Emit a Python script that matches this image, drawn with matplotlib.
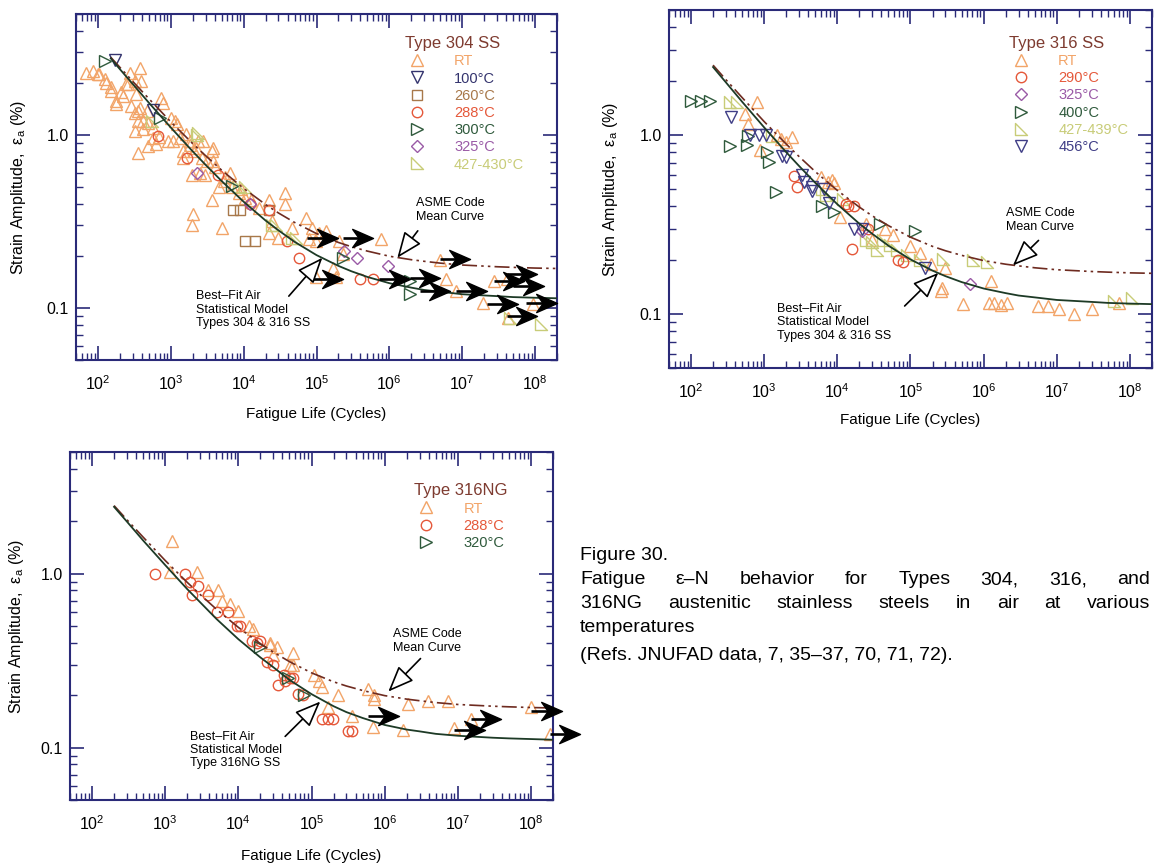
import numpy as np
import matplotlib
matplotlib.use('Agg')
import matplotlib.pyplot as plt
from matplotlib.lines import Line2D
from matplotlib.path import Path
from matplotlib.ticker import LogLocator, FixedLocator, FixedFormatter, NullFormatter
from matplotlib.font_manager import FontProperties

plt.rcParams['font.family'] = ['Liberation Sans', 'DejaVu Sans']
plt.rcParams['mathtext.fontset'] = 'custom'
plt.rcParams['mathtext.rm'] = 'Liberation Sans'
plt.rcParams['mathtext.it'] = 'Liberation Sans:italic'
plt.rcParams['mathtext.default'] = 'regular'

# ---------------- curves ----------------
curve_n = [150, 200, 300, 500, 1e3, 2e3, 3e3, 5e3, 1e4, 2e4, 3e4, 5e4, 1e5, 2e5, 3e5,
           5e5, 1e6, 2e6, 3e6, 5e6, 1e7, 3e7, 5e7, 1e8, 2e8]
bestfit_e = [2.77, 2.40, 1.97, 1.535, 1.104, 0.803, 0.672, 0.541, 0.411, 0.320, 0.281, 0.241,
             0.202, 0.175, 0.163, 0.151, 0.139, 0.131, 0.127, 0.124, 0.120, 0.117, 0.1155,
             0.1145, 0.1137]
asme_e = [2.81, 2.46, 2.04, 1.62, 1.19, 0.891, 0.759, 0.625, 0.491, 0.396, 0.354, 0.312,
          0.269, 0.239, 0.226, 0.213, 0.199, 0.190, 0.186, 0.1815, 0.177, 0.173, 0.1716,
          0.170, 0.169]
ng_e = [2.80, 2.42, 1.99, 1.55, 1.12, 0.815, 0.685, 0.55, 0.42, 0.33, 0.29, 0.245,
        0.203, 0.173, 0.160, 0.148, 0.135, 0.127, 0.124, 0.120, 0.117, 0.114, 0.113,
        0.112, 0.111]
x_ticks = [1e2, 1e3, 1e4, 1e5, 1e6, 1e7, 1e8]

# ---------------- Panel 1: Type 304 SS ----------------
p1_rt_n = [69, 85, 100, 105, 124, 129, 151, 153, 178, 179, 210, 220, 246, 259, 274, 288, 320,
           324, 324, 338, 355, 355, 356, 375, 380, 390, 415, 417, 465, 490, 490, 575, 575,
           630, 680, 740, 790, 930, 1000, 1080, 1150, 1200, 1350, 1480, 1480, 1620, 1830,
           1850, 1940, 1940, 2040, 2050, 2250, 2400, 2550, 2670, 2800, 2970, 3100, 3640,
           3640, 3850, 3850, 4070, 4540, 5000, 5300, 5600, 6600, 6900, 8500, 9100, 10500,
           12800, 16000, 22000, 22000, 24500, 30000, 37000, 37000, 46500, 71000, 79000,
           87000, 98000, 98000, 107000, 134000, 166000, 183000, 204000, 228000, 780000,
           4.9e6, 6.0e6, 8.3e6, 1.95e7, 2.7e7, 4.1e7, 4.3e7, 9.5e7]
p1_rt_e = [2.29, 2.34, 2.25, 2.24, 2.10, 2.00, 1.80, 1.88, 1.57, 1.50, 1.76, 1.68, 1.96, 1.97,
           2.29, 1.47, 2.05, 1.34, 1.05, 1.72, 1.20, 0.79, 1.38, 2.45, 1.43, 2.05, 1.08, 1.20,
           1.38, 0.86, 1.17, 1.10, 0.96, 0.89, 0.97, 1.64, 1.53, 0.92, 1.25, 0.92, 1.20, 1.16,
           0.96, 0.74, 0.81, 1.01, 0.88, 0.92, 0.59, 0.30, 0.35, 0.81, 0.84, 0.92, 0.60, 0.74,
           0.92, 0.59, 0.71, 0.81, 0.42, 0.84, 0.71, 0.65, 0.50, 0.29, 0.54, 0.57, 0.60, 0.50,
           0.46, 0.49, 0.43, 0.42, 0.38, 0.42, 0.27, 0.32, 0.255, 0.46, 0.40, 0.29, 0.33,
           0.25, 0.29, 0.244, 0.15, 0.27, 0.28, 0.171, 0.15, 0.244, 0.204, 0.249, 0.19,
           0.147, 0.125, 0.107, 0.143, 0.147, 0.088, 0.105]
p1_100_n = [171, 575]
p1_100_e = [2.72, 1.40]
p1_260_n = [7200, 8900, 10500, 14500, 22000]
p1_260_e = [0.37, 0.37, 0.244, 0.244, 0.37]
p1_288_n = [675, 1650, 4500, 12300, 22000, 39000, 57000, 3.9e5, 5.9e5]
p1_288_e = [0.99, 0.74, 0.59, 0.40, 0.37, 0.244, 0.195, 0.147, 0.147]
p1_300_n = [124, 710, 6900, 2.3e5, 1.9e6, 1.9e6]
p1_300_e = [2.68, 1.26, 0.51, 0.195, 0.143, 0.12]
p1_325_n = [2300, 12300, 2.4e5, 3.6e5, 9.5e5]
p1_325_e = [0.605, 0.40, 0.214, 0.195, 0.175]
p1_427_n = [550, 2300, 2400, 8500, 10500, 24500, 27500, 46000, 52000, 4.6e7, 1.2e8]
p1_427_e = [1.2, 1.0, 1.03, 0.51, 0.50, 0.30, 0.30, 0.255, 0.254, 0.088, 0.081]
p1_run_n = [7.5e4, 2.3e5, 8.7e4, 7.2e5, 1.9e6, 2.6e6, 4.9e6, 8.3e6, 2.2e7, 2.7e7, 4.1e7,
            5.0e7, 4.1e7, 7.6e7]
p1_run_e = [0.252, 0.252, 0.147, 0.147, 0.149, 0.125, 0.192, 0.125, 0.106, 0.143, 0.157,
            0.134, 0.090, 0.107]

# ---------------- Panel 2: Type 316 SS ----------------
p2_rt_n = [550, 610, 790, 1480, 1700, 2000, 2400, 890, 6000, 7500, 8500, 9100, 10800, 25000,
           30000, 45000, 58000, 1.0e5, 1.35e5, 1.9e5, 3.0e5, 2.7e5, 2.6e5, 5.3e5, 1.26e6,
           1.17e6, 1.38e6, 1.7e6, 2.1e6, 5.5e6, 7.6e6, 1.07e7, 1.74e7, 3.0e7, 7.1e7]
p2_rt_e = [1.31, 1.15, 1.53, 1.0, 0.95, 0.92, 0.97, 0.83, 0.58, 0.55, 0.56, 0.54, 0.35, 0.32,
           0.26, 0.30, 0.275, 0.24, 0.22, 0.19, 0.18, 0.14, 0.135, 0.114, 0.153, 0.115,
           0.115, 0.113, 0.115, 0.111, 0.111, 0.107, 0.100, 0.107, 0.115]
p2_290_n = [2560, 2800, 13000, 17000, 13800, 16000, 26000, 68000, 79000]
p2_290_e = [0.59, 0.51, 0.41, 0.40, 0.40, 0.23, 0.30, 0.20, 0.195]
p2_325_n = [22000, 6.6e5]
p2_325_e = [0.29, 0.148]
p2_400_n = [100, 138, 182, 345, 575, 610, 1080, 1150, 1440, 6200, 9000, 38000, 1.15e5]
p2_400_e = [1.56, 1.56, 1.56, 0.87, 0.88, 0.99, 0.80, 0.71, 0.48, 0.40, 0.37, 0.32, 0.29]
p2_427_n = [345, 420, 1260, 6200, 7000, 12000, 25000, 30000, 42000, 52000, 35000, 65000,
            89000, 1.35e5, 2.8e5, 7.2e5, 1.1e6, 6.1e7, 1.07e8]
p2_427_e = [1.53, 1.53, 0.99, 0.50, 0.46, 0.44, 0.258, 0.252, 0.258, 0.242, 0.227, 0.227,
            0.213, 0.20, 0.204, 0.20, 0.195, 0.118, 0.123]
p2_456_n = [355, 650, 840, 1050, 1740, 1990, 3300, 3500, 4500, 4500, 7800, 6600, 17000,
            22000, 1.6e5]
p2_456_e = [1.26, 1.0, 1.0, 1.0, 0.76, 0.75, 0.60, 0.55, 0.51, 0.49, 0.42, 0.50, 0.30,
            0.30, 0.18]

# ---------------- Panel 3: Type 316NG ----------------
p3_rt_n = [1250, 1170, 2750, 3900, 5300, 6000, 7800, 10000, 13800, 16000, 27500, 34000,
           30000, 56000, 51000, 1.07e5, 27000, 55000, 1.26e5, 1.4e5, 2.3e5, 1.7e5, 3.6e5,
           5.9e5, 7.1e5, 7.1e5, 6.9e5, 1.8e6, 2.1e6, 3.9e6, 7.3e6, 8.9e6, 1.5e7, 1e8, 1.8e8]
p3_rt_e = [1.53, 1.02, 1.02, 0.80, 0.80, 0.70, 0.67, 0.61, 0.50, 0.48, 0.40, 0.38, 0.34,
           0.35, 0.30, 0.26, 0.39, 0.30, 0.24, 0.224, 0.20, 0.172, 0.151, 0.218, 0.20,
           0.19, 0.132, 0.126, 0.179, 0.186, 0.186, 0.129, 0.147, 0.172, 0.12]
p3_288_n = [730, 1870, 2200, 2800, 2340, 3800, 5100, 7300, 9700, 10700, 15500, 18000, 20000,
            25000, 30000, 42000, 51000, 56000, 35000, 44000, 65000, 76000, 1.4e5, 1.66e5,
            1.95e5, 3.2e5, 3.6e5]
p3_288_e = [1.0, 1.0, 0.90, 0.85, 0.75, 0.75, 0.605, 0.605, 0.50, 0.50, 0.41, 0.40, 0.41,
            0.31, 0.30, 0.26, 0.25, 0.25, 0.23, 0.24, 0.204, 0.20, 0.147, 0.147, 0.147,
            0.125, 0.125]
p3_320_n = [20000, 48000, 78000]
p3_320_e = [0.38, 0.25, 0.20]
p3_run_n = [5.9e5, 1.5e7, 8.9e6, 1e8, 1.8e8]
p3_run_e = [0.151, 0.147, 0.126, 0.163, 0.119]

# ---------------- styles ----------------
C_RT = '#f2a468'
C_NAVY = '#34346e'
C_260 = '#a8784a'
C_RED = '#e5583a'
C_GREEN = '#2f5a3c'
C_PURPLE = '#9a5aa6'
C_YEL = '#c8cc78'
C_456 = '#3f3d86'
C_TITLE = '#7e3b30'
C_FRAME = '#2a2a78'
C_FIT = '#1d3a26'
C_ASME = '#6e2b20'

half_tri = Path([(-1, 1), (-1, -1), (1, -1), (-1, 1)],
                [Path.MOVETO, Path.LINETO, Path.LINETO, Path.CLOSEPOLY])
arrow_head = Path([(0, 0), (-1.6, 0.7), (-1.1, 0), (-1.6, -0.7), (0, 0)],
                  [Path.MOVETO, Path.LINETO, Path.LINETO, Path.LINETO, Path.CLOSEPOLY])
RUN_LEN = 10 ** 0.42

W, H = 1155, 865
fig = plt.figure(figsize=(W / 100, H / 100), dpi=100)
fig.patch.set_facecolor('white')


def rect(l, t, r, b):
    return [l / W, 1 - b / H, (r - l) / W, (b - t) / H]


def setup(ax, ylab_x, xlab_y):
    ax.set_xscale('log')
    ax.set_yscale('log')
    ax.set_xlim(50, 2e8)
    ax.set_ylim(0.05, 5)
    ax.xaxis.set_major_locator(FixedLocator(x_ticks))
    ax.xaxis.set_major_formatter(FixedFormatter(
        ['$10^{%d}$' % int(round(np.log10(v))) for v in x_ticks]))
    ax.xaxis.set_minor_locator(LogLocator(base=10, subs=np.arange(2, 10), numticks=200))
    ax.xaxis.set_minor_formatter(NullFormatter())
    ax.yaxis.set_major_locator(FixedLocator([0.1, 1.0]))
    ax.yaxis.set_major_formatter(FixedFormatter(['0.1', '1.0']))
    ax.yaxis.set_minor_locator(LogLocator(base=10, subs=np.arange(2, 10), numticks=200))
    ax.yaxis.set_minor_formatter(NullFormatter())
    ax.tick_params(which='both', direction='in', top=True, right=True, color=C_FRAME,
                   labelsize=11.5)
    ax.tick_params(which='major', length=10, width=1.2)
    ax.tick_params(which='minor', length=5, width=1.0)
    ax.tick_params(axis='x', which='major', pad=10)
    ax.tick_params(axis='y', which='major', pad=5)
    for s in ax.spines.values():
        s.set_color(C_FRAME)
        s.set_linewidth(1.5)
    ax.set_xlabel('Fatigue Life (Cycles)', fontsize=11)
    ax.set_ylabel('Strain Amplitude,  ε$_{a}$ (%)', fontsize=11.5)
    ax.yaxis.set_label_coords(ylab_x, 0.5)
    ax.xaxis.set_label_coords(0.5, xlab_y)


def scatter(ax, n, e, marker, color, ms=8):
    ax.plot(n, e, ls='none', marker=marker, mec=color, mfc='none', ms=ms, mew=1.0, zorder=2)


def curves(ax, start, fit):
    ax.plot(curve_n[start:], asme_e[start:], color=C_ASME, lw=1.2,
            dashes=(9, 2.5, 1.5, 2.5, 1.5, 2.5), zorder=3)
    ax.plot(curve_n[start:], fit[start:], color=C_FIT, lw=1.3, zorder=3)


def runouts(ax, n, e):
    for x, y in zip(n, e):
        ax.plot([x, x * RUN_LEN / 1.2], [y, y], color='black', lw=1.9, clip_on=False,
                zorder=5, solid_capstyle='butt')
        ax.plot([x * RUN_LEN], [y], ls='none', marker=arrow_head, ms=30, color='black',
                clip_on=False, zorder=5)


def legend(ax, title, entries, anchor):
    handles = [Line2D([], [], ls='none', marker=m, mec=c, mfc='none', ms=s, mew=1.0)
               for (_, m, c, s) in entries]
    labels = [lab for (lab, _, _, _) in entries]
    leg = ax.legend(handles, labels, title=title, loc='upper left', bbox_to_anchor=anchor,
                    frameon=False, fontsize=10.5, title_fontsize=12,
                    labelcolor=[c for (_, _, c, _) in entries], handlelength=1.7,
                    handletextpad=1.7, labelspacing=0.22, borderaxespad=0, borderpad=0,
                    alignment='left')
    leg.get_title().set_color(C_TITLE)
    leg.set_zorder(6)


def hollow_arrow(ax, tail, head):
    ax.annotate('', xy=head, xytext=tail,
                arrowprops=dict(arrowstyle='-|>,head_length=1.6,head_width=0.65',
                                fc='white', ec='black', lw=1.2, shrinkA=0, shrinkB=0,
                                mutation_scale=10), zorder=6)


# ===== Panel 1 =====
ax1 = fig.add_axes(rect(76, 14, 557, 360))
setup(ax1, -0.10, -0.135)
scatter(ax1, p1_rt_n, p1_rt_e, '^', C_RT)
scatter(ax1, p1_260_n, p1_260_e, 's', C_260, 7)
scatter(ax1, p1_288_n, p1_288_e, 'o', C_RED, 7.5)
scatter(ax1, p1_325_n, p1_325_e, 'D', C_PURPLE, 6)
scatter(ax1, p1_427_n, p1_427_e, half_tri, C_YEL, 8)
scatter(ax1, p1_300_n, p1_300_e, '>', C_GREEN)
scatter(ax1, p1_100_n, p1_100_e, 'v', C_NAVY)
curves(ax1, 0, bestfit_e)
runouts(ax1, p1_run_n, p1_run_e)
legend(ax1, 'Type 304 SS',
       [('RT', '^', C_RT, 8), ('100°C', 'v', C_NAVY, 8), ('260°C', 's', C_260, 7),
        ('288°C', 'o', C_RED, 7.5), ('300°C', '>', C_GREEN, 8), ('325°C', 'D', C_PURPLE, 6),
        ('427-430°C', half_tri, C_YEL, 8)], (0.683, 0.936))
ax1.text(0.778, 0.434, 'ASME Code\nMean Curve', transform=ax1.transAxes, ha='center',
         va='center', fontsize=9, linespacing=1.15, zorder=6)
ax1.text(0.249, 0.145, 'Best–Fit Air\nStatistical Model\nTypes 304 & 316 SS',
         transform=ax1.transAxes, ha='left', va='center', fontsize=9, linespacing=1.15,
         zorder=6)
hollow_arrow(ax1, (10 ** 6.39, 0.279), (10 ** 6.11, 0.195))
hollow_arrow(ax1, (10 ** 4.62, 0.117), (10 ** 5.08, 0.195))

# ===== Panel 2 =====
ax2 = fig.add_axes(rect(669, 10, 1152, 368))
setup(ax2, -0.101, -0.126)
scatter(ax2, p2_rt_n, p2_rt_e, '^', C_RT)
scatter(ax2, p2_427_n, p2_427_e, half_tri, C_YEL, 8)
scatter(ax2, p2_290_n, p2_290_e, 'o', C_RED, 7.5)
scatter(ax2, p2_325_n, p2_325_e, 'D', C_PURPLE, 6)
scatter(ax2, p2_400_n, p2_400_e, '>', C_GREEN)
scatter(ax2, p2_456_n, p2_456_e, 'v', C_456)
curves(ax2, 1, bestfit_e)
legend(ax2, 'Type 316 SS',
       [('RT', '^', C_RT, 8), ('290°C', 'o', C_RED, 7.5), ('325°C', 'D', C_PURPLE, 6),
        ('400°C', '>', C_GREEN, 8), ('427-439°C', half_tri, C_YEL, 8),
        ('456°C', 'v', C_456, 8)], (0.703, 0.928))
ax2.text(0.768, 0.413, 'ASME Code\nMean Curve', transform=ax2.transAxes, ha='center',
         va='center', fontsize=9, linespacing=1.15, zorder=6)
ax2.text(0.224, 0.128, 'Best–Fit Air\nStatistical Model\nTypes 304 & 316 SS',
         transform=ax2.transAxes, ha='left', va='center', fontsize=9, linespacing=1.15,
         zorder=6)
hollow_arrow(ax2, (10 ** 6.75, 0.258), (10 ** 6.40, 0.187))
hollow_arrow(ax2, (10 ** 4.92, 0.111), (10 ** 5.38, 0.170))

# ===== Panel 3 =====
ax3 = fig.add_axes(rect(70, 452, 553, 800))
setup(ax3, -0.091, -0.141)
scatter(ax3, p3_rt_n, p3_rt_e, '^', C_RT)
scatter(ax3, p3_288_n, p3_288_e, 'o', C_RED, 7.5)
scatter(ax3, p3_320_n, p3_320_e, '>', C_GREEN)
curves(ax3, 1, ng_e)
runouts(ax3, p3_run_n, p3_run_e)
legend(ax3, 'Type 316NG',
       [('RT', '^', C_RT, 8), ('288°C', 'o', C_RED, 7.5), ('320°C', '>', C_GREEN, 8)],
       (0.712, 0.91))
ax3.text(0.739, 0.457, 'ASME Code\nMean Curve', transform=ax3.transAxes, ha='center',
         va='center', fontsize=9, linespacing=1.15, zorder=6)
ax3.text(0.248, 0.144, 'Best–Fit Air\nStatistical Model\nType 316NG SS',
         transform=ax3.transAxes, ha='left', va='center', fontsize=9, linespacing=1.15,
         zorder=6)
hollow_arrow(ax3, (10 ** 6.49, 0.325), (10 ** 6.05, 0.21))
hollow_arrow(ax3, (10 ** 4.64, 0.116), (10 ** 5.12, 0.184))

# ===== Caption =====
CAP_FS = 14
renderer = fig.canvas.get_renderer()
fp = FontProperties(family=['Liberation Sans', 'DejaVu Sans'], size=CAP_FS)


def cap_line(text, y_px, x0=580, x1=None):
    if x1 is None:
        fig.text(x0 / W, 1 - y_px / H, text, fontsize=CAP_FS, ha='left', va='center')
        return
    words = text.split(' ')
    widths = [renderer.get_text_width_height_descent(w, fp, ismath=False)[0] for w in words]
    gap = (x1 - x0 - sum(widths)) / (len(words) - 1)
    x = x0
    for w, wd in zip(words, widths):
        fig.text(x / W, 1 - y_px / H, w, fontsize=CAP_FS, ha='left', va='center')
        x += wd + gap


cap_line('Figure 30.', 555)
cap_line('Fatigue ε–N behavior for Types 304, 316, and', 580, x1=1150)
cap_line('316NG austenitic stainless steels in air at various', 604, x1=1150)
cap_line('temperatures', 628)
cap_line('(Refs. JNUFAD data, 7, 35–37, 70, 71, 72).', 655)

fig.savefig('out.png', dpi=100, facecolor='white')
